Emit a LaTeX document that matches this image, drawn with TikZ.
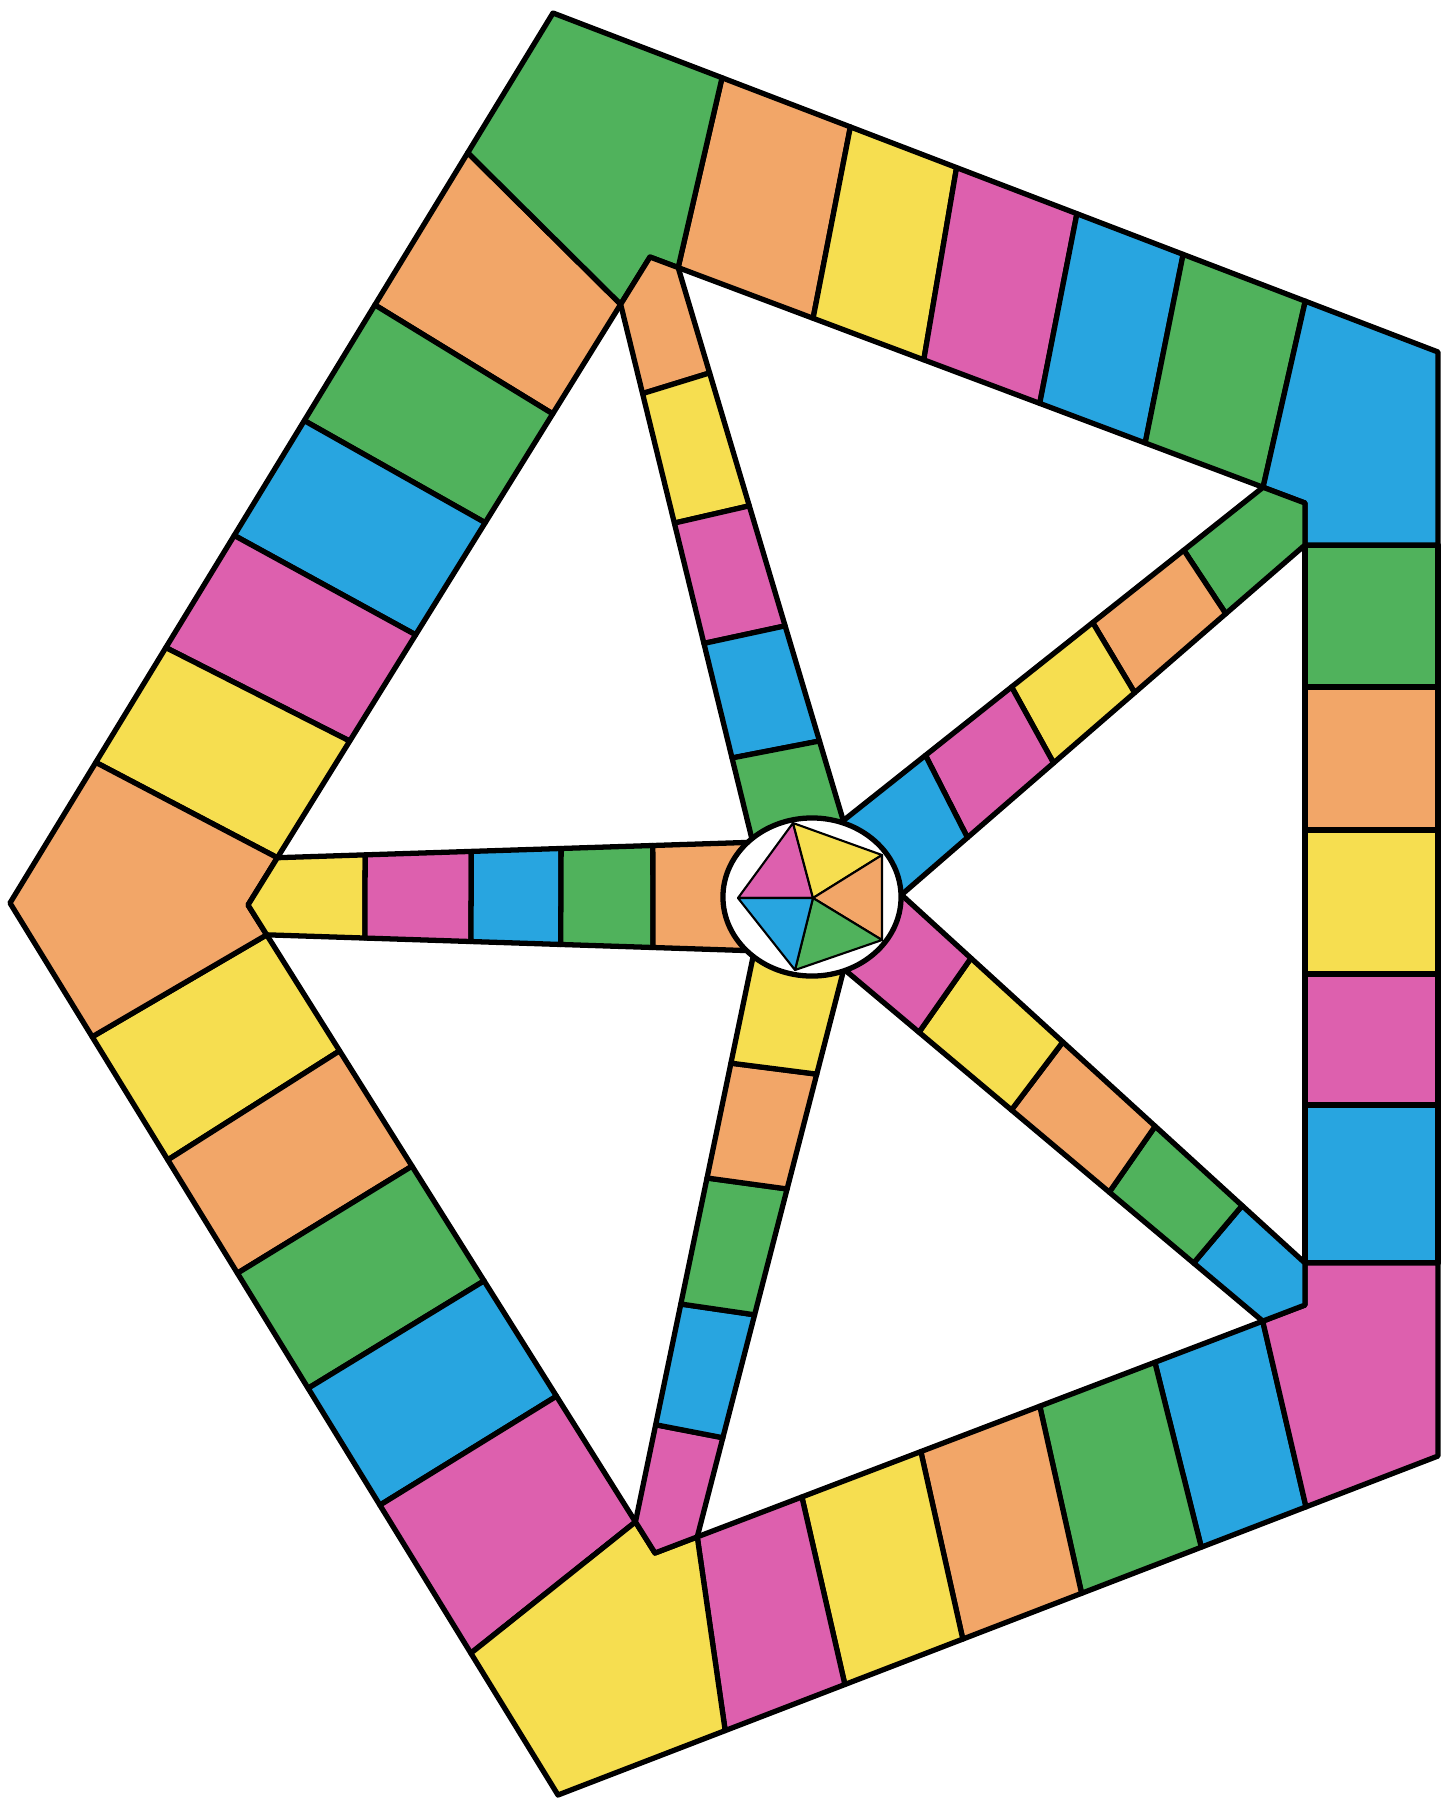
\documentclass[tikz,border=0pt]{standalone}
\usepackage{xcolor}
\usepackage{tikz}
\usetikzlibrary{calc}

\definecolor{cgreen}{RGB}{80,178,92}
\definecolor{corange}{RGB}{242,166,104}
\definecolor{cyellow}{RGB}{246,222,80}
\definecolor{cpink}{RGB}{221,96,174}
\definecolor{cblue}{RGB}{40,165,224}

\begin{document}
\begin{tikzpicture}[x=0.01cm, y=-0.01cm, line join=round,
    field/.style={draw=black, line width=1.5pt},
    wedge/.style={draw=black, line width=0.6pt}]

    \useasboundingbox (0,0) rectangle (1449,1802);

    % =================================================================
    % 1. CORNERS OF THE TRACK
    % =================================================================
    \coordinate (Ot)  at (553,13);     % outer top
    \coordinate (Ol)  at (10,903);     % outer left
    \coordinate (Ob)  at (558,1795);   % outer bottom
    \coordinate (Otr) at (1438,352);   % outer upper right (page edge)
    \coordinate (Obr) at (1438,1456);  % outer lower right (page edge)

    \coordinate (It)  at (650,257);    % inner top
    \coordinate (Il)  at (248,905);    % inner left
    \coordinate (Ib)  at (655,1553);   % inner bottom
    \coordinate (Itr) at (1305,503);   % inner upper right
    \coordinate (Ibr) at (1305,1305);  % inner lower right

    \coordinate (C) at (812,897);      % centre

    % where the spokes meet the inner edge
    \coordinate (jt1) at ($(It)!0.073!(Il)$);
    \coordinate (jt2) at ($(It)!0.043!(Itr)$);
    \coordinate (jr1) at ($(It)!0.936!(Itr)$);
    \coordinate (jr2) at (1305,545);
    \coordinate (js1) at (1305,1263);
    \coordinate (js2) at ($(Ibr)!0.065!(Ib)$);
    \coordinate (jb1) at ($(Ibr)!0.935!(Ib)$);
    \coordinate (jb2) at ($(Il)!0.952!(Ib)$);
    \coordinate (jl1) at ($(Il)!0.046!(Ib)$);
    \coordinate (jl2) at ($(It)!0.927!(Il)$);

    % =================================================================
    % 2. SQUARES ALONG THE SIDES
    % =================================================================
    % upper left side
    \foreach \oa/\ob/\ia/\ib/\col in {0.157/0.328/0.073/0.242/corange, 0.328/0.458/0.242/0.410/cgreen,
        0.458/0.587/0.410/0.583/cblue, 0.587/0.713/0.583/0.747/cpink, 0.713/0.842/0.747/0.927/cyellow}
        \filldraw[field, fill=\col] ($(Ot)!\oa!(Ol)$) -- ($(Ot)!\ob!(Ol)$) -- ($(It)!\ib!(Il)$) -- ($(It)!\ia!(Il)$) -- cycle;

    % top side
    \foreach \oa/\ob/\ia/\ib/\col in {0.191/0.336/0.043/0.249/corange, 0.336/0.456/0.249/0.418/cyellow,
        0.456/0.592/0.418/0.595/cpink, 0.592/0.712/0.595/0.756/cblue, 0.712/0.850/0.756/0.936/cgreen}
        \filldraw[field, fill=\col] ($(Ot)!\oa!(Otr)$) -- ($(Ot)!\ob!(Otr)$) -- ($(It)!\ib!(Itr)$) -- ($(It)!\ia!(Itr)$) -- cycle;

    % right side
    \foreach \ya/\yb/\col in {545/687/cgreen, 687/830/corange, 830/974/cyellow, 974/1105/cpink, 1105/1263/cblue}
        \filldraw[field, fill=\col] (1305,\ya) rectangle (1438,\yb);

    % lower side
    \foreach \oa/\ob/\ia/\ib/\col in {0.150/0.269/0.065/0.231/cblue, 0.269/0.405/0.231/0.408/cgreen,
        0.405/0.540/0.408/0.591/corange, 0.540/0.674/0.591/0.774/cyellow, 0.674/0.810/0.774/0.935/cpink}
        \filldraw[field, fill=\col] ($(Obr)!\oa!(Ob)$) -- ($(Obr)!\ob!(Ob)$) -- ($(Ibr)!\ib!(Ib)$) -- ($(Ibr)!\ia!(Ib)$) -- cycle;

    % lower left side
    \foreach \oa/\ob/\ia/\ib/\col in {0.150/0.288/0.046/0.225/cyellow, 0.288/0.415/0.225/0.403/corange,
        0.415/0.544/0.403/0.580/cgreen, 0.544/0.675/0.580/0.758/cblue, 0.675/0.841/0.758/0.952/cpink}
        \filldraw[field, fill=\col] ($(Ol)!\oa!(Ob)$) -- ($(Ol)!\ob!(Ob)$) -- ($(Il)!\ib!(Ib)$) -- ($(Il)!\ia!(Ib)$) -- cycle;

    % =================================================================
    % 3. CORNER FIELDS
    % =================================================================
    \filldraw[field, fill=cgreen] (Ot) -- ($(Ot)!0.191!(Otr)$) -- (jt2) -- (It) -- (jt1) -- ($(Ot)!0.157!(Ol)$) -- cycle;
    \filldraw[field, fill=cblue] ($(Ot)!0.850!(Otr)$) -- (Otr) -- (1438,545) -- (jr2) -- (Itr) -- (jr1) -- cycle;
    \filldraw[field, fill=cpink] (js1) -- (1438,1263) -- (Obr) -- ($(Obr)!0.150!(Ob)$) -- (js2) -- (Ibr) -- cycle;
    \filldraw[field, fill=cyellow] ($(Obr)!0.810!(Ob)$) -- (Ob) -- ($(Ol)!0.841!(Ob)$) -- (jb2) -- (Ib) -- (jb1) -- cycle;
    \filldraw[field, fill=corange] ($(Ot)!0.842!(Ol)$) -- (Ol) -- ($(Ol)!0.150!(Ob)$) -- (jl1) -- (Il) -- (jl2) -- cycle;

    % =================================================================
    % 4. SPOKES
    % =================================================================
    % left spoke
    \coordinate (lA) at (760,842);
    \coordinate (lB) at (760,951);
    \filldraw[field, fill=cyellow] (Il) -- (jl2) -- ($(jl2)!0.182!(lA)$) -- ($(jl1)!0.199!(lB)$) -- (jl1) -- cycle;
    \foreach \oa/\ob/\ia/\ib/\col in {0.182/0.402/0.199/0.414/cpink, 0.402/0.588/0.414/0.596/cblue,
        0.588/0.778/0.596/0.783/cgreen, 0.778/1/0.783/1/corange}
        \filldraw[field, fill=\col] ($(jl2)!\oa!(lA)$) -- ($(jl2)!\ob!(lA)$) -- ($(jl1)!\ib!(lB)$) -- ($(jl1)!\ia!(lB)$) -- cycle;

    % top spoke
    \coordinate (tA) at (762,880);
    \coordinate (tB) at (861,880);
    \filldraw[field, fill=corange] (It) -- (jt1) -- ($(jt1)!0.155!(tA)$) -- ($(jt2)!0.172!(tB)$) -- (jt2) -- cycle;
    \foreach \oa/\ob/\ia/\ib/\col in {0.155/0.380/0.172/0.389/cyellow, 0.380/0.589/0.389/0.585/cpink,
        0.589/0.788/0.585/0.773/cblue, 0.788/1/0.773/1/cgreen}
        \filldraw[field, fill=\col] ($(jt1)!\oa!(tA)$) -- ($(jt1)!\ob!(tA)$) -- ($(jt2)!\ib!(tB)$) -- ($(jt2)!\ia!(tB)$) -- cycle;

    % upper right spoke
    \coordinate (rA) at (805,851);
    \coordinate (rB) at (847,942);
    \filldraw[field, fill=cgreen] (Itr) -- (jr1) -- ($(jr1)!0.173!(rA)$) -- ($(jr2)!0.173!(rB)$) -- (jr2) -- cycle;
    \foreach \oa/\ob/\col in {0.173/0.372/corange, 0.372/0.549/cyellow, 0.549/0.737/cpink, 0.737/1/cblue}
        \filldraw[field, fill=\col] ($(jr1)!\oa!(rA)$) -- ($(jr1)!\ob!(rA)$) -- ($(jr2)!\ob!(rB)$) -- ($(jr2)!\oa!(rB)$) -- cycle;

    % lower right spoke
    \coordinate (sA) at (859,856);
    \coordinate (sB) at (814,944);
    \filldraw[field, fill=cblue] (Ibr) -- (js1) -- ($(js1)!0.141!(sA)$) -- ($(js2)!0.154!(sB)$) -- (js2) -- cycle;
    \foreach \oa/\ob/\ia/\ib/\col in {0.141/0.336/0.154/0.342/cgreen, 0.336/0.543/0.342/0.560/corange,
        0.543/0.749/0.560/0.766/cyellow, 0.749/1/0.766/1/cpink}
        \filldraw[field, fill=\col] ($(js1)!\oa!(sA)$) -- ($(js1)!\ob!(sA)$) -- ($(js2)!\ib!(sB)$) -- ($(js2)!\ia!(sB)$) -- cycle;

    % bottom spoke
    \coordinate (bA) at (847,957);
    \coordinate (bB) at (758,933);
    \filldraw[field, fill=cpink] (Ib) -- (jb1) -- ($(jb1)!0.171!(bA)$) -- ($(jb2)!0.165!(bB)$) -- (jb2) -- cycle;
    \foreach \oa/\ob/\ia/\ib/\col in {0.171/0.383/0.165/0.370/cblue, 0.383/0.600/0.370/0.584/cgreen,
        0.600/0.798/0.584/0.779/corange, 0.798/1/0.779/1/cyellow}
        \filldraw[field, fill=\col] ($(jb1)!\oa!(bA)$) -- ($(jb1)!\ob!(bA)$) -- ($(jb2)!\ib!(bB)$) -- ($(jb2)!\ia!(bB)$) -- cycle;

    % =================================================================
    % 5. CENTRE
    % =================================================================
    \filldraw[field, fill=white] (C) ellipse [x radius=0.89cm, y radius=0.79cm];

    \coordinate (P1) at (793,823);
    \coordinate (P2) at (882,855);
    \coordinate (P3) at (882,940);
    \coordinate (P4) at (795,970);
    \coordinate (P5) at (738,898);
    \coordinate (Pc) at (813,898);
    \foreach \u/\v/\col in {P5/P1/cpink, P1/P2/cyellow, P2/P3/corange, P3/P4/cgreen, P4/P5/cblue}
        \filldraw[wedge, fill=\col] (Pc) -- (\u) -- (\v) -- cycle;

\end{tikzpicture}
\end{document}
